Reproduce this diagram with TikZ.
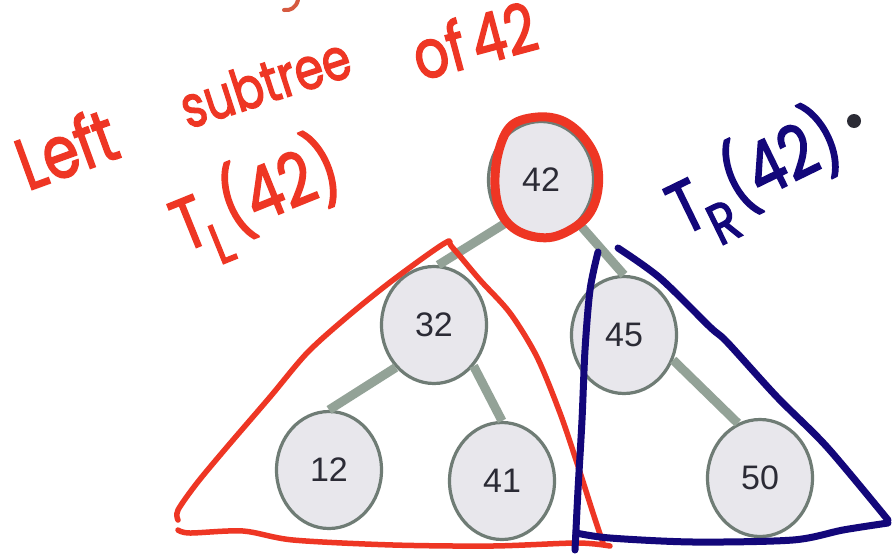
\documentclass[tikz,border=0pt]{standalone}
\usepackage{fontspec}
\setmainfont{Liberation Sans}
\newfontfamily\hand{Poppins}[FakeBold=2.5]
\usetikzlibrary{shapes.geometric}
\definecolor{nodefill}{HTML}{E8E7EC}
\definecolor{nodeborder}{HTML}{6F7C75}
\definecolor{edgecol}{HTML}{93A297}
\definecolor{numcol}{HTML}{2B2B35}
\definecolor{penred}{HTML}{EE3624}
\definecolor{pennavy}{HTML}{13077A}
\definecolor{penfaint}{HTML}{D65A40}
\newcommand{\tallword}[1]{\scalebox{1}[1.25]{#1}}
\begin{document}
\begin{tikzpicture}[x=1pt,y=-1pt,
  treenode/.style={ellipse, draw=nodeborder, line width=3.2pt, fill=nodefill,
    minimum width=105pt, minimum height=117pt, inner sep=0pt, text=numcol,
    font=\fontsize{34}{34}\selectfont},
  treeedge/.style={draw=edgecol, line width=9pt},
  redpen/.style={draw=penred, line width=5.5pt, line cap=round, line join=round},
  navypen/.style={draw=pennavy, line width=7pt, line cap=round, line join=round},
  redtext/.style={text=penred, inner sep=0pt},
  navytext/.style={text=pennavy, inner sep=0pt},
]
\fill[white] (0,0) rectangle (894,557);
\useasboundingbox (0,0) rectangle (894,557);

% tree nodes
\node[treenode] (n42) at (541,180) {42};
\node[treenode] (n32) at (434,325) {32};
\node[treenode] (n45) at (624,335) {45};
\node[treenode] (n12) at (329,470) {12};
\node[treenode] (n41) at (502,481) {41};
\node[treenode] (n50) at (760,478) {50};

% tree edges
\draw[treeedge] (n42.230) -- (n32.86);
\draw[treeedge] (n42.311) -- (n45.north);
\draw[treeedge] (n32.228) -- (n12.north);
\draw[treeedge] (n32.314) -- (n41.north);
\draw[treeedge] (n45.333) -- (n50.112);

% handwritten labels
\node[redtext, rotate=20, font=\hand\fontsize{58}{58}\selectfont] (tleft) at (66,148) {\tallword{Left}};
\node[redtext, rotate=18, font=\hand\fontsize{46}{46}\selectfont] (tsub) at (265,82) {\tallword{subtree}};
\node[redtext, rotate=15, font=\hand\fontsize{54}{54}\selectfont] (tof) at (474,40) {\tallword{of\kern0.15em 42}};
\node[redtext, rotate=22, font=\hand\fontsize{58}{58}\selectfont] (tl) at (257,200)
  {\tallword{T\kern-0.05em\raisebox{-0.35em}{\fontsize{46}{46}\selectfont L}\kern0.06em(42)}};
\node[navytext, rotate=26, font=\hand\fontsize{58}{58}\selectfont] (tr) at (756,177)
  {\tallword{T\kern-0.05em\raisebox{-0.35em}{\fontsize{46}{46}\selectfont R}\kern0.06em(42)}};
\node[circle, fill=numcol, minimum size=14pt, inner sep=0pt] (dot) at (854,121) {};

% fragment of a letter cut off at the top
\draw[penfaint, line width=4pt, line cap=round] (298,0) .. controls (296,8) and (290,11) .. (284,10);

% red circle round 42
\draw[redpen, line width=9pt] plot[smooth cycle, tension=0.6] coordinates
  {(538,117) (563,121) (584,138) (597,163) (597,195) (584,220) (553,237)
   (522,233) (502,215) (495,185) (499,150) (512,125)};

% red outline of the left subtree
\draw[redpen] plot[smooth, tension=0.5] coordinates
  {(178,520) (178,510) (197,483) (227,447) (270,397) (307,353) (347,317)
   (393,280) (445,243) (452,247) (480,280) (510,313) (537,357) (560,413)
   (577,463) (593,513) (603,543)};
\draw[redpen] plot[smooth, tension=0.5] coordinates
  {(178,530) (190,533) (243,531) (293,540) (393,545) (493,546) (577,543) (610,546)};

% navy outline of the right subtree
\draw[navypen] plot[smooth, tension=0.5] coordinates
  {(598,252) (590,290) (585,350) (582,420) (578,490) (575,550)};
\draw[navypen] plot[smooth, tension=0.5] coordinates
  {(576,533) (610,538) (693,542) (793,540) (843,530) (888,523)};
\draw[navypen] plot[smooth, tension=0.5] coordinates
  {(618,248) (660,278) (710,327) (727,342) (777,397) (827,447) (888,520)};
\end{tikzpicture}
\end{document}
